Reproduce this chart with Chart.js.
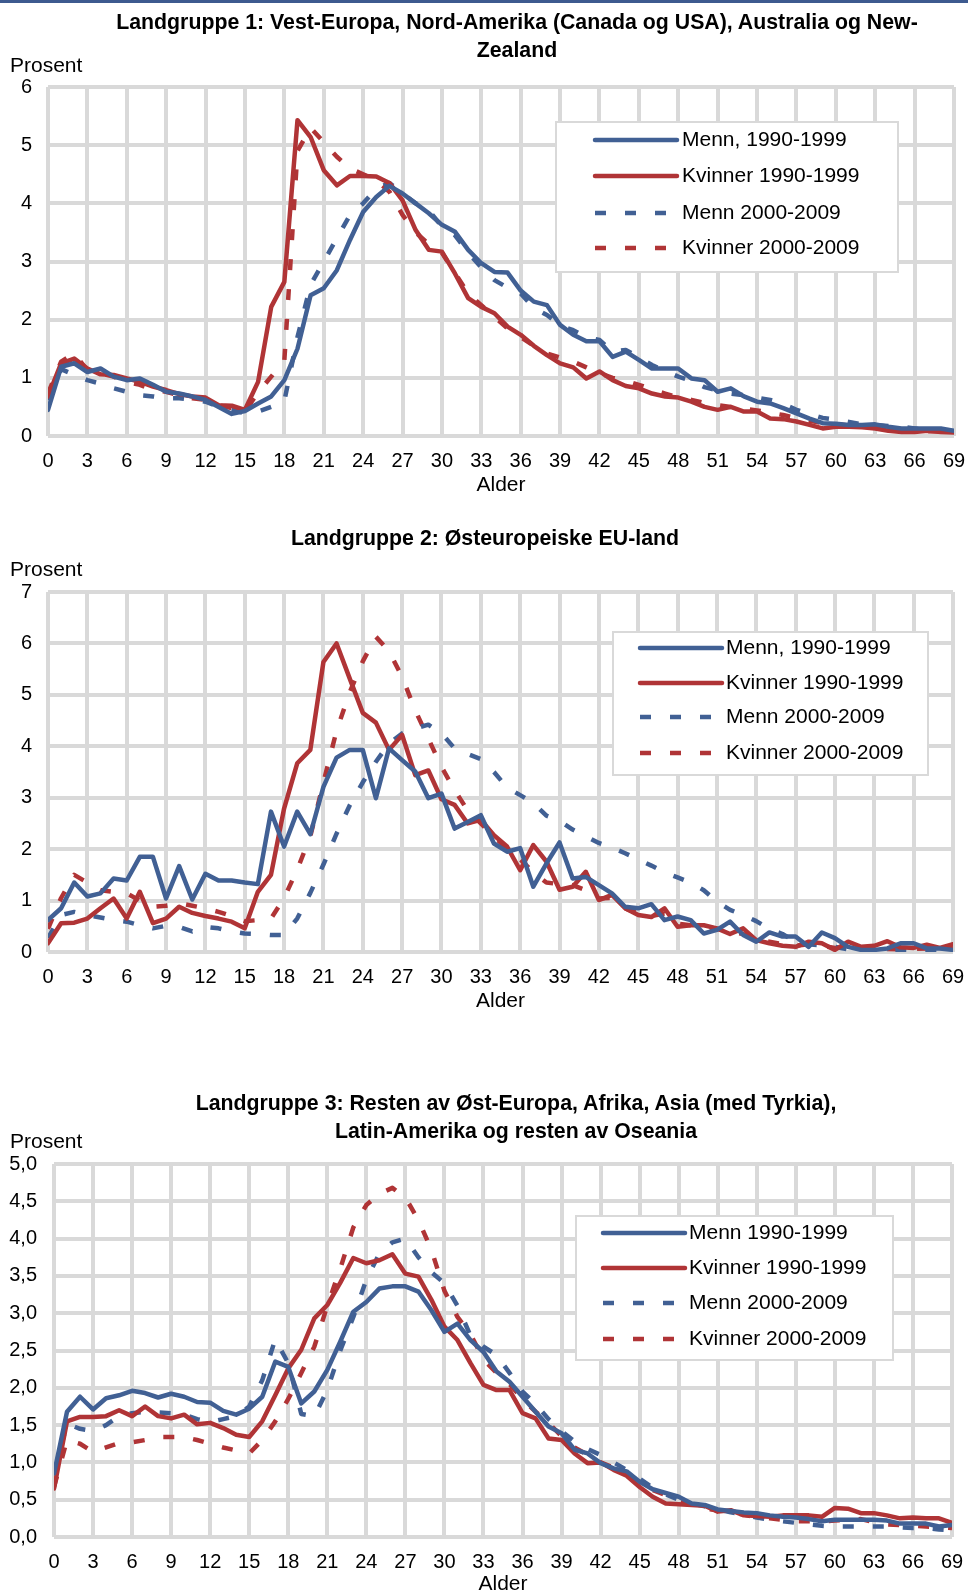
<!DOCTYPE html>
<html>
<head>
<meta charset="utf-8">
<script src="https://cdn.jsdelivr.net/npm/chart.js@4.4.1/dist/chart.umd.min.js"></script>
<style>
    body { margin: 0; background: #fff; }
    #page { position: relative; width: 968px; height: 1595px; background: #fff; font-family: "Liberation Sans", Arial, sans-serif; color: #000; }
    .topbar { position: absolute; left: 0; top: 0; width: 968px; height: 3px; background: #3d5a8f; }
    canvas { position: absolute; left: 0; }
    .title { position: absolute; width: 900px; text-align: center; font-weight: bold; font-size: 21.3px; line-height: 28px; white-space: nowrap; }
    .unit { position: absolute; left: 10px; font-size: 21px; line-height: 24px; }
</style>
</head>
<body>
<div id="page">
    <div class="topbar"></div>
    <canvas id="chart1" width="968" height="500" style="top:0px"></canvas>
    <canvas id="chart2" width="968" height="520" style="top:500px"></canvas>
    <canvas id="chart3" width="968" height="575" style="top:1020px"></canvas>

    <div class="title" style="left:67px; top:8px">Landgruppe 1: Vest-Europa, Nord-Amerika (Canada og USA), Australia og New-<br>Zealand</div>
    <div class="unit" style="top:53px">Prosent</div>

    <div class="title" style="left:35px; top:524px">Landgruppe 2: Østeuropeiske EU-land</div>
    <div class="unit" style="top:557px">Prosent</div>

    <div class="title" style="left:66px; top:1089px">Landgruppe 3: Resten av Øst-Europa, Afrika, Asia (med Tyrkia),<br>Latin-Amerika og resten av Oseania</div>
    <div class="unit" style="top:1129px">Prosent</div>
</div>

<script>
// alder 0-69
const ages = [0,1,2,3,4,5,6,7,8,9,10,11,12,13,14,15,16,17,18,19,20,21,22,23,24,25,26,27,28,29,
    30,31,32,33,34,35,36,37,38,39,40,41,42,43,44,45,46,47,48,49,50,51,52,53,54,55,56,57,58,59,
    60,61,62,63,64,65,66,67,68,69];
const xTicks = [0,3,6,9,12,15,18,21,24,27,30,33,36,39,42,45,48,51,54,57,60,63,66,69];

const g1Labels = ['Menn, 1990-1999', 'Kvinner 1990-1999', 'Menn 2000-2009', 'Kvinner 2000-2009'];
const g2Labels = ['Menn, 1990-1999', 'Kvinner 1990-1999', 'Menn 2000-2009', 'Kvinner 2000-2009'];
const g3Labels = ['Menn 1990-1999', 'Kvinner 1990-1999', 'Menn 2000-2009', 'Kvinner 2000-2009'];

const g1YTicks = [0,1,2,3,4,5,6];
const g2YTicks = [0,1,2,3,4,5,6,7];
const g3YTicks = [0,0.5,1,1.5,2,2.5,3,3.5,4,4.5,5];

// Landgruppe 1
const g1Menn90 = [0.45,1.19,1.25,1.1,1.16,1.02,0.96,0.99,0.88,0.76,
    0.73,0.68,0.62,0.5,0.38,0.43,0.56,0.68,0.96,1.5,
    2.42,2.54,2.85,3.37,3.85,4.11,4.3,4.17,4.0,3.83,
    3.63,3.51,3.2,2.97,2.82,2.81,2.5,2.31,2.25,1.91,
    1.74,1.63,1.63,1.36,1.45,1.31,1.16,1.16,1.16,0.99,
    0.96,0.76,0.82,0.68,0.59,0.56,0.48,0.39,0.3,0.22,
    0.21,0.19,0.19,0.2,0.16,0.13,0.13,0.13,0.13,0.09];
const g1Kvinner90 = [0.68,1.25,1.33,1.16,1.06,1.05,0.99,0.93,0.85,0.79,
    0.72,0.68,0.66,0.53,0.52,0.45,0.93,2.22,2.65,5.43,
    5.14,4.57,4.31,4.47,4.47,4.46,4.35,4.05,3.54,3.2,
    3.17,2.79,2.37,2.22,2.11,1.88,1.74,1.55,1.39,1.25,
    1.18,0.99,1.11,0.96,0.86,0.82,0.73,0.68,0.66,0.59,
    0.5,0.45,0.5,0.42,0.42,0.3,0.29,0.25,0.19,0.13,
    0.16,0.16,0.15,0.13,0.09,0.07,0.07,0.09,0.07,0.06];
const g1Menn00 = [0.62,1.15,1.05,0.96,0.9,0.82,0.76,0.7,0.68,0.65,
    0.65,0.62,0.59,0.5,0.45,0.39,0.42,0.5,0.6,1.7,
    2.6,3.0,3.4,3.8,4.0,4.25,4.35,4.17,4.0,3.88,
    3.6,3.45,3.15,2.9,2.68,2.55,2.45,2.2,2.08,1.9,
    1.82,1.7,1.65,1.45,1.48,1.35,1.22,1.12,1.02,0.95,
    0.84,0.78,0.73,0.7,0.66,0.62,0.55,0.45,0.38,0.31,
    0.28,0.24,0.2,0.19,0.17,0.16,0.13,0.1,0.1,0.09];
const g1Kvinner00 = [0.73,1.28,1.42,1.13,1.08,1.02,0.93,0.88,0.79,0.76,
    0.7,0.65,0.62,0.53,0.48,0.42,0.75,1.02,1.3,4.9,
    5.3,5.05,4.8,4.6,4.5,4.4,4.2,3.8,3.5,3.3,
    3.15,2.8,2.45,2.25,2.05,1.85,1.7,1.55,1.42,1.35,
    1.28,1.18,1.08,1.0,0.95,0.88,0.8,0.73,0.66,0.62,
    0.57,0.53,0.5,0.47,0.44,0.4,0.36,0.31,0.26,0.22,
    0.2,0.18,0.16,0.14,0.12,0.1,0.09,0.08,0.08,0.07];

// Landgruppe 2
const g2Menn90 = [0.62,0.85,1.35,1.08,1.14,1.43,1.39,1.85,1.85,1.04,
    1.67,1.02,1.52,1.39,1.39,1.35,1.32,2.73,2.05,2.73,
    2.29,3.21,3.78,3.93,3.93,2.99,3.96,3.73,3.51,2.99,
    3.08,2.4,2.53,2.66,2.11,1.95,2.02,1.27,1.72,2.13,
    1.43,1.46,1.3,1.14,0.88,0.85,0.93,0.62,0.69,0.62,
    0.36,0.43,0.59,0.33,0.2,0.38,0.3,0.3,0.1,0.38,
    0.27,0.1,0.04,0.04,0.07,0.17,0.17,0.07,0.07,0.04];
const g2Kvinner90 = [0.17,0.56,0.57,0.65,0.85,1.04,0.65,1.17,0.56,0.65,
    0.88,0.76,0.7,0.65,0.59,0.46,1.17,1.5,2.79,3.67,
    3.93,5.64,6.0,5.32,4.65,4.46,3.93,4.22,3.44,3.53,
    2.97,2.86,2.5,2.57,2.27,2.05,1.59,2.08,1.76,1.21,
    1.27,1.56,1.01,1.11,0.85,0.72,0.68,0.85,0.49,0.52,
    0.52,0.46,0.35,0.46,0.23,0.17,0.12,0.1,0.2,0.17,
    0.04,0.2,0.1,0.12,0.21,0.09,0.08,0.14,0.08,0.15];
const g2Menn00 = [0.27,0.72,0.78,0.72,0.67,0.62,0.59,0.52,0.46,0.51,
    0.49,0.4,0.49,0.46,0.4,0.36,0.35,0.33,0.33,0.65,
    1.15,1.7,2.3,2.85,3.3,3.7,4.05,4.25,4.35,4.42,
    4.25,3.96,3.85,3.75,3.5,3.2,3.05,2.9,2.65,2.55,
    2.38,2.25,2.12,2.03,1.92,1.8,1.68,1.55,1.45,1.35,
    1.2,0.98,0.82,0.72,0.6,0.45,0.35,0.2,0.15,0.13,
    0.1,0.05,0.03,0.02,0.03,0.04,0.03,0.03,0.04,0.03];
const g2Kvinner00 = [0.45,1.05,1.5,1.35,1.2,1.17,1.14,1.0,0.88,0.9,
    0.95,0.9,0.85,0.78,0.7,0.6,0.62,0.65,1.05,1.6,
    2.25,3.3,4.3,5.05,5.65,6.13,5.85,5.35,4.7,4.15,
    3.6,3.15,2.75,2.5,2.25,2.0,1.8,1.55,1.35,1.32,
    1.3,1.2,1.04,1.05,0.85,0.75,0.7,0.75,0.55,0.52,
    0.5,0.45,0.4,0.35,0.25,0.2,0.15,0.12,0.15,0.12,
    0.08,0.1,0.06,0.08,0.06,0.05,0.06,0.07,0.06,0.08];

// Landgruppe 3
const g3Menn90 = [0.85,1.68,1.88,1.71,1.86,1.9,1.96,1.93,1.87,1.92,
    1.88,1.81,1.8,1.69,1.64,1.72,1.88,2.35,2.28,1.79,
    1.95,2.24,2.62,3.02,3.15,3.33,3.36,3.36,3.29,3.04,
    2.75,2.86,2.64,2.48,2.22,2.08,1.88,1.68,1.48,1.39,
    1.17,1.12,0.99,0.92,0.88,0.74,0.64,0.59,0.54,0.45,
    0.43,0.37,0.35,0.33,0.32,0.29,0.27,0.26,0.24,0.21,
    0.23,0.23,0.23,0.23,0.22,0.18,0.18,0.18,0.14,0.16];
const g3Kvinner90 = [0.65,1.55,1.61,1.61,1.62,1.7,1.62,1.75,1.62,1.59,
    1.64,1.51,1.53,1.46,1.37,1.34,1.55,1.9,2.26,2.51,
    2.93,3.11,3.41,3.74,3.67,3.71,3.79,3.53,3.49,3.18,
    2.82,2.64,2.33,2.04,1.97,1.97,1.66,1.59,1.32,1.3,
    1.12,0.99,1.0,0.9,0.82,0.67,0.54,0.45,0.44,0.43,
    0.42,0.34,0.36,0.29,0.28,0.27,0.29,0.29,0.29,0.27,
    0.39,0.38,0.32,0.32,0.29,0.25,0.26,0.25,0.25,0.19];
const g3Menn00 = [0.85,1.52,1.45,1.42,1.5,1.62,1.66,1.68,1.67,1.66,
    1.64,1.58,1.54,1.58,1.62,1.75,2.1,2.65,2.33,1.65,
    1.62,1.97,2.5,2.95,3.45,3.8,3.95,4.0,3.75,3.55,
    3.4,3.1,2.7,2.55,2.44,2.2,1.95,1.78,1.58,1.42,
    1.28,1.18,1.1,1.0,0.9,0.78,0.66,0.57,0.5,0.45,
    0.41,0.37,0.33,0.3,0.26,0.23,0.21,0.19,0.17,0.15,
    0.14,0.14,0.14,0.14,0.14,0.13,0.12,0.12,0.1,0.09];
const g3Kvinner00 = [0.67,1.3,1.25,1.14,1.2,1.26,1.27,1.3,1.34,1.34,
    1.34,1.3,1.25,1.2,1.16,1.12,1.3,1.55,1.85,2.2,
    2.55,3.1,3.6,4.15,4.45,4.6,4.68,4.55,4.25,3.85,
    3.3,2.95,2.72,2.38,2.2,2.05,1.85,1.68,1.53,1.35,
    1.2,1.1,1.0,0.93,0.85,0.72,0.63,0.56,0.5,0.44,
    0.38,0.36,0.33,0.3,0.26,0.25,0.23,0.21,0.21,0.21,
    0.22,0.23,0.24,0.2,0.17,0.16,0.15,0.14,0.13,0.12];

const BLUE = '#416094';
const RED = '#b03436';
const GRID = '#d9d9d9';
const FONT = '"Liberation Sans", Arial, sans-serif';
const DASH = [11, 19];

// legend drawn as a framed box inside the plot
const boxLegend = {
    id: 'boxLegend',
    afterDatasetsDraw(chart, args, opts) {
        const ctx = chart.ctx;
        ctx.save();
        ctx.fillStyle = '#fff';
        ctx.fillRect(opts.x0, opts.y0, opts.x1 - opts.x0, opts.y1 - opts.y0);
        ctx.strokeStyle = GRID;
        ctx.lineWidth = 2;
        ctx.strokeRect(opts.x0, opts.y0, opts.x1 - opts.x0, opts.y1 - opts.y0);
        chart.data.datasets.forEach((ds, i) => {
            const y = opts.rows[i];
            ctx.strokeStyle = ds.borderColor;
            ctx.lineWidth = ds.borderWidth;
            ctx.setLineDash(ds.borderDash || []);
            ctx.lineCap = ds.borderDash ? 'butt' : 'round';
            ctx.beginPath();
            ctx.moveTo(opts.lineX0, y);
            ctx.lineTo(opts.lineX1, y);
            ctx.stroke();
            ctx.setLineDash([]);
            ctx.fillStyle = '#000';
            ctx.font = '21px ' + FONT;
            ctx.textBaseline = 'middle';
            ctx.textAlign = 'left';
            ctx.fillText(ds.label, opts.textX, y);
        });
        ctx.restore();
    }
};

function series(label, values, color, dashed) {
    return {
        label: label,
        data: values,
        borderColor: color,
        backgroundColor: color,
        borderWidth: 4.5,
        borderDash: dashed ? DASH : undefined,
        borderCapStyle: dashed ? 'butt' : 'round',
        borderJoinStyle: 'round',
        pointRadius: 0,
        tension: 0,
        fill: false
    };
}

function makeChart(id, labels, data, yTicks, box) {
    const ctx = document.getElementById(id).getContext('2d');
    return new Chart(ctx, {
        type: 'line',
        data: {
            labels: ages,
            datasets: [
                series(labels[0], data[0], BLUE, false),
                series(labels[1], data[1], RED, false),
                series(labels[2], data[2], BLUE, true),
                series(labels[3], data[3], RED, true)
            ]
        },
        options: {
            responsive: false,
            animation: false,
            layout: { padding: box.padding },
            plugins: {
                legend: { display: false },
                tooltip: { enabled: false },
                boxLegend: box.legend
            },
            scales: {
                x: {
                    type: 'linear',
                    min: 0,
                    max: 69,
                    afterBuildTicks: s => { s.ticks = xTicks.map(v => ({ value: v })); },
                    afterFit: s => { s.height = box.xHeight; s.paddingLeft = 0; s.paddingRight = 0; },
                    grid: { color: GRID, lineWidth: 4, drawTicks: false },
                    border: { display: false },
                    ticks: { color: '#000', font: { family: FONT, size: 20 }, padding: 13, maxRotation: 0, autoSkip: false },
                    title: { display: true, text: 'Alder', color: '#000', font: { family: FONT, size: 21, lineHeight: 1 }, padding: { top: 0, bottom: box.titlePad } }
                },
                y: {
                    min: yTicks[0],
                    max: yTicks[yTicks.length - 1],
                    afterBuildTicks: s => { s.ticks = yTicks.map(v => ({ value: v })); },
                    afterFit: s => { s.width = box.yWidth; s.paddingTop = 0; s.paddingBottom = 0; },
                    grid: { color: GRID, lineWidth: 4, drawTicks: false },
                    border: { display: false },
                    ticks: {
                        color: '#000',
                        font: { family: FONT, size: 20 },
                        padding: box.yPad,
                        callback: v => box.comma ? v.toFixed(1).replace('.', ',') : String(v)
                    }
                }
            }
        },
        plugins: [boxLegend]
    });
}

makeChart('chart1', g1Labels, [g1Menn90, g1Kvinner90, g1Menn00, g1Kvinner00], g1YTicks, {
    padding: { top: 87, right: 14, bottom: 0, left: 0 },
    xHeight: 64, yWidth: 48, yPad: 16, titlePad: 4, comma: false,
    legend: { x0: 556, y0: 122, x1: 898, y1: 272, lineX0: 595, lineX1: 677, textX: 682, rows: [140, 176, 213, 248] }
});

makeChart('chart2', g2Labels, [g2Menn90, g2Kvinner90, g2Menn00, g2Kvinner00], g2YTicks, {
    padding: { top: 92, right: 15, bottom: 0, left: 0 },
    xHeight: 68, yWidth: 48, yPad: 16, titlePad: 8, comma: false,
    legend: { x0: 613, y0: 132, x1: 928, y1: 275, lineX0: 640, lineX1: 722, textX: 726, rows: [148, 183, 217, 253] }
});

makeChart('chart3', g3Labels, [g3Menn90, g3Kvinner90, g3Menn00, g3Kvinner00], g3YTicks, {
    padding: { top: 144, right: 16, bottom: 0, left: 0 },
    xHeight: 58, yWidth: 54, yPad: 17, titlePad: 0, comma: true,
    legend: { x0: 576, y0: 196, x1: 893, y1: 340, lineX0: 603, lineX1: 685, textX: 689, rows: [213, 248, 283, 319] }
});
</script>
</body>
</html>
